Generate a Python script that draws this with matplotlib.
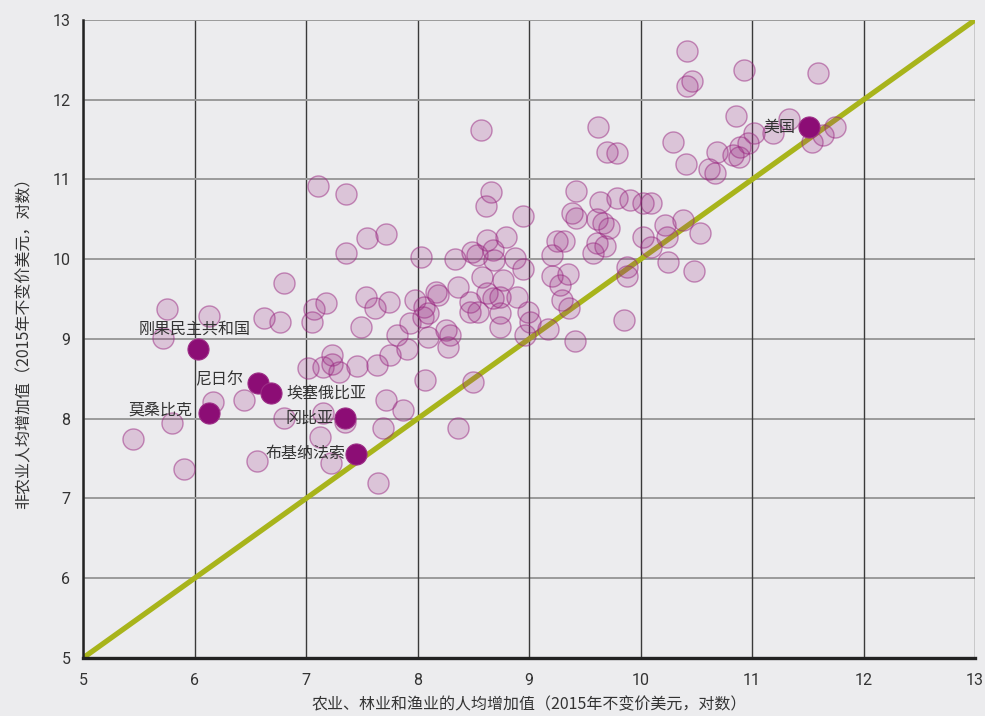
import matplotlib
matplotlib.use("Agg")
import matplotlib.pyplot as plt

# ---------------- data ----------------
agri_x = [5.75, 6.13, 5.72, 6.62, 6.77, 6.80, 7.07, 7.18, 7.05, 7.54,
          7.62, 7.74, 7.49, 7.82, 7.93, 7.91, 7.75, 7.64, 7.46, 7.30,
          7.23, 7.23, 7.15, 7.02, 6.44, 6.17, 5.80, 5.45, 5.91, 6.56,
          6.80, 7.15, 7.13, 7.35, 7.22, 7.72, 7.87, 7.69, 7.65, 7.55,
          7.72, 7.36, 8.03, 7.98, 8.06, 8.09, 8.05, 8.17, 8.18, 8.09,
          8.26, 8.29, 8.27, 8.07, 8.50, 8.36, 8.34, 8.49, 8.53, 8.62,
          8.68, 8.69, 8.79, 8.87, 8.95, 8.58, 8.77, 8.62, 8.68, 8.74,
          8.89, 8.47, 8.47, 8.54, 8.74, 8.74, 8.99, 9.01, 8.96, 9.17,
          9.21, 9.21, 9.35, 9.28, 9.30, 9.36, 8.36, 8.57, 7.11, 7.36,
          8.66, 8.61, 8.95, 9.42, 9.39, 9.42, 9.64, 9.79, 9.91, 10.02,
          10.09, 9.61, 9.66, 9.72, 9.25, 9.31, 9.61, 9.68, 9.57, 10.02,
          10.09, 10.22, 10.24, 10.25, 9.88, 9.88, 9.85, 9.41, 9.62, 9.70,
          9.79, 10.29, 10.41, 10.61, 10.67, 10.69, 10.83, 10.89, 10.96, 10.86,
          11.02, 10.38, 10.53, 10.48, 10.42, 10.46, 10.42, 10.93, 11.59, 11.19,
          11.33, 11.54, 11.64, 11.74, 10.88]
nonagri_y = [9.38, 9.29, 9.01, 9.26, 9.21, 9.70, 9.38, 9.45, 9.21, 9.53,
             9.39, 9.46, 9.15, 9.05, 9.20, 8.87, 8.80, 8.67, 8.66, 8.59,
             8.80, 8.69, 8.65, 8.64, 8.24, 8.21, 7.95, 7.75, 7.37, 7.47,
             8.01, 8.07, 7.77, 7.96, 7.45, 8.24, 8.11, 7.88, 7.19, 10.27,
             10.32, 10.08, 10.03, 9.49, 9.40, 9.33, 9.28, 9.59, 9.55, 9.03,
             9.11, 9.05, 8.90, 8.49, 8.46, 9.65, 10.00, 10.09, 10.05, 10.24,
             10.12, 9.99, 10.28, 10.02, 9.88, 9.78, 9.74, 9.58, 9.51, 9.53,
             9.53, 9.46, 9.34, 9.34, 9.33, 9.15, 9.34, 9.21, 9.05, 9.13,
             10.05, 9.79, 9.82, 9.68, 9.49, 9.39, 7.88, 11.62, 10.92, 10.82,
             10.84, 10.67, 10.54, 10.86, 10.58, 10.52, 10.72, 10.77, 10.74, 10.71,
             10.71, 10.50, 10.45, 10.39, 10.23, 10.23, 10.20, 10.17, 10.08, 10.28,
             10.15, 10.43, 10.28, 9.97, 9.90, 9.79, 9.24, 8.97, 11.66, 11.34,
             11.33, 11.47, 11.19, 11.13, 11.08, 11.34, 11.31, 11.41, 11.46, 11.80,
             11.58, 10.49, 10.33, 9.85, 12.61, 12.24, 12.17, 12.37, 12.34, 11.58,
             11.76, 11.47, 11.56, 11.66, 11.28]

hl_names = ["刚果民主共和国", "尼日尔", "埃塞俄比亚", "莫桑比克", "冈比亚", "布基纳法索", "美国"]
hl_x = [6.03, 6.57, 6.69, 6.13, 7.35, 7.45, 11.51]
hl_y = [8.875, 8.45, 8.32, 8.07, 8.01, 7.56, 11.66]

ticks = [5, 6, 7, 8, 9, 10, 11, 12, 13]
diag = [5, 13]

x_label = "农业、林业和渔业的人均增加值（2015年不变价美元，对数）"
y_label = "非农业人均增加值（2015年不变价美元，对数）"

# ---------------- style ----------------
BG = "#ECECEE"
CJK = ["Noto Sans CJK SC", "DejaVu Sans"]
NUM = ["Liberation Sans Narrow", "Roboto", "DejaVu Sans"]
plt.rcParams["font.family"] = CJK

fig = plt.figure(figsize=(9.85, 7.16), dpi=100, facecolor=BG)
ax = fig.add_axes([83 / 985, 1 - 658 / 716, (975 - 83) / 985, (658 - 20) / 716])
ax.set_facecolor(BG)
ax.set_xlim(5, 13)
ax.set_ylim(5, 13)
ax.set_xticks(ticks)
ax.set_yticks(ticks)
ax.set_xticklabels([str(t) for t in ticks], family=NUM, fontsize=11.5, color="#333333")
ax.set_yticklabels([str(t) for t in ticks], family=NUM, fontsize=11.5, color="#333333")
ax.tick_params(axis="x", length=0, pad=11)
ax.tick_params(axis="y", length=0, pad=9)

for t in ticks:
    ax.axvline(t, color="#3a3a3a", lw=1.0, zorder=1)
    ax.axhline(t, color="#9a9a9a", lw=1.4, zorder=1)

for s in ["top", "right"]:
    ax.spines[s].set_visible(False)
ax.spines["left"].set_color("#222222")
ax.spines["left"].set_linewidth(1.8)
ax.spines["bottom"].set_color("#222222")
ax.spines["bottom"].set_linewidth(2.4)

ax.plot(diag, diag, color="#A8B41B", lw=3.8, zorder=2, solid_capstyle="round")

ax.scatter(agri_x, nonagri_y, s=230, facecolor=(0.6, 0.15, 0.5, 0.2),
           edgecolor=(0.6, 0.15, 0.5, 0.5), linewidth=1.0, zorder=3)
ax.scatter(hl_x, hl_y, s=230, color="#8C0D75", edgecolor="#9c2d86",
           linewidth=0.8, zorder=4)

# label placement: (dx, dy) in points, ha
offsets = {
    "刚果民主共和国": (-2, 14, "center"),
    "尼日尔": (-11, 2, "right"),
    "埃塞俄比亚": (11, 0, "left"),
    "莫桑比克": (-12, 2, "right"),
    "冈比亚": (-8, 0, "right"),
    "布基纳法索": (-8, 0, "right"),
    "美国": (-10, 0, "right"),
}
for n, xv, yv in zip(hl_names, hl_x, hl_y):
    dx, dy, ha = offsets[n]
    ax.annotate(n, (xv, yv), xytext=(dx, dy), textcoords="offset points",
                ha=ha, va="center", fontsize=11.5, color="#333333", zorder=5)

ax.set_xlabel(x_label, fontsize=11.5, color="#333333", labelpad=6)
ax.set_ylabel(y_label, fontsize=11.5, color="#333333", labelpad=14)

fig.savefig("out.png", dpi=100, facecolor=BG)
